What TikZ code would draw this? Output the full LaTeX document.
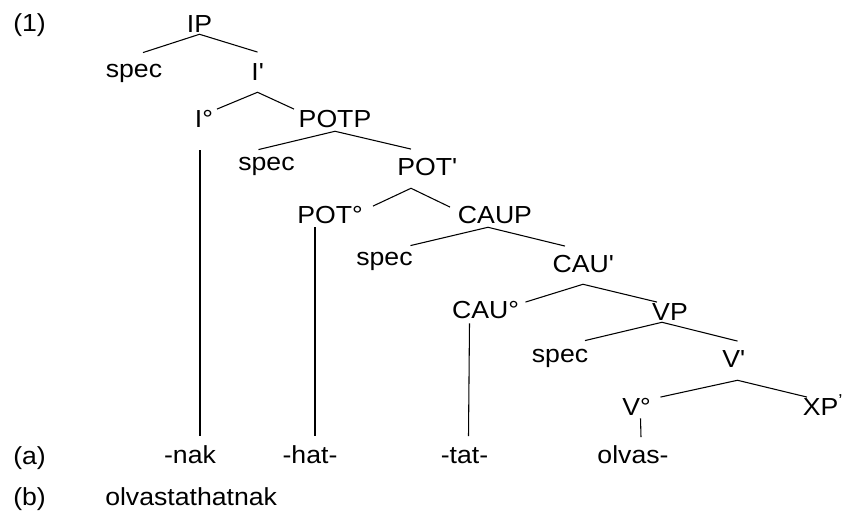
\documentclass[tikz,border=0pt]{standalone}
\usepackage{fontspec}
\setmainfont{Liberation Sans}[FakeStretch=1.08]
\usepackage{tikz}
\newcommand{\prm}{\textquotesingle}
\tikzstyle{cat} = [inner sep=0pt, anchor=base, text height=13.25pt, text depth=0pt, font=\fontsize{18.5}{22}\selectfont]
\tikzstyle{num} = [cat, anchor=base west]
\tikzstyle{branch} = [line width=0.8pt]

\begin{document}
\begin{tikzpicture}[x=0.75pt, y=-0.75pt]
	\useasboundingbox (0, 0) rectangle (843, 519);
	\node[num](n1) at (13, 31){(1)};
	\node[num](na) at (13, 464){(a)};
	\node[num](nb) at (13, 505){(b)};
	\node[num](word) at (105, 505){olvastathatnak};

	\node[cat](IP) at (199.5, 32){IP};
	\node[cat](spec1) at (134, 77.5){spec};
	\node[cat](Ibar) at (257.5, 80){I\prm};
	\node[cat](Io) at (204, 127){I°};
	\node[cat](POTP) at (335, 127){POTP};
	\node[cat](spec2) at (266.5, 170.5){spec};
	\node[cat](POTbar) at (427, 175){POT\prm};
	\node[cat](POTo) at (330, 223){POT°};
	\node[cat](CAUP) at (495, 223){CAUP};
	\node[cat](spec3) at (384.5, 265.5){spec};
	\node[cat](CAUbar) at (583, 272){CAU\prm};
	\node[cat](CAUo) at (485.5, 318){CAU°};
	\node[cat](VP) at (670, 320){VP};
	\node[cat](spec4) at (560, 362.5){spec};
	\node[cat](Vbar) at (733.5, 367){V\prm};
	\node[cat](Vo) at (636.5, 415){V°};
	\node[cat](XP) at (823, 415){XP\textsuperscript{’}};

	\node[cat](nak) at (190, 463){-nak};
	\node[cat](hat) at (310, 463){-hat-};
	\node[cat](tat) at (464.5, 463){-tat-};
	\node[cat](olvas) at (633, 463){olvas-};

	\draw[branch]([shift={(9,-7)}]spec1.north) -- ([shift={(0,2)}]IP.south) -- ([shift={(0,-10)}]Ibar.north);
	\draw[branch]([shift={(13,0)}]Io.north) -- ([shift={(0,12)}]Ibar.south) -- ([shift={(-41,0)}]POTP.north);
	\draw[branch]([shift={(-8,-3)}]spec2.north) -- ([shift={(0,4)}]POTP.south) -- ([shift={(-16,-8)}]POTbar.north);
	\draw[branch]([shift={(43,1)}]POTo.north) -- ([shift={(-16,13)}]POTbar.south) -- ([shift={(-45,2)}]CAUP.north);
	\draw[branch]([shift={(26,-2)}]spec3.north) -- ([shift={(-7,4)}]CAUP.south) -- ([shift={(-18,-8)}]CAUbar.north);
	\draw[branch]([shift={(40,2)}]CAUo.north) -- ([shift={(0,12)}]CAUbar.south) -- ([shift={(-13,0)}]VP.north);
	\draw[branch]([shift={(25,-4)}]spec4.north) -- ([shift={(-8,2)}]VP.south) -- ([shift={(4,-8)}]Vbar.north);
	\draw[branch]([shift={(24,0)}]Vo.north) -- ([shift={(4,13)}]Vbar.south) -- ([shift={(-16,0)}]XP.north);

	\draw[branch]([shift={(-4,23)}]Io.south) -- ([shift={(10,-9)}]nak.north);
	\draw[branch]([shift={(-15,4)}]POTo.south) -- ([shift={(5,-9)}]hat.north);
	\draw[branch]([shift={(-16,5)}]CAUo.south) -- ([shift={(4,-9)}]tat.north);
	\draw[branch]([shift={(4,3)}]Vo.south) -- ([shift={(8,-8)}]olvas.north);
\end{tikzpicture}
\end{document}
